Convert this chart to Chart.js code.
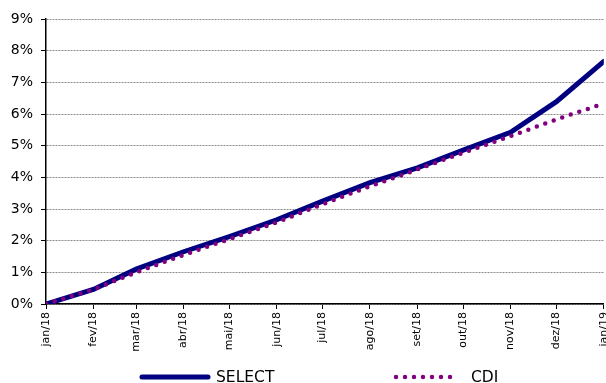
<!DOCTYPE html>
<html>
<head>
<meta charset="utf-8">
<script src="https://cdn.jsdelivr.net/npm/chart.js@4/dist/chart.umd.min.js"></script>
<style>
  html, body { margin: 0; padding: 0; background: #fff; overflow: hidden; }
  #wrap { width: 606px; height: 383px; overflow: hidden; position: relative; }
  canvas { display: block; }
</style>
</head>
<body>
<div id="wrap"><canvas id="c" width="620" height="383"></canvas></div>
<script>
// Day of year (from 1 Jan 2018) at the start of each month, through 1 Jan 2019
const monthDays = [0, 31, 59, 90, 120, 151, 181, 212, 243, 273, 304, 334, 365];
const tickLabels = ['jan/18', 'fev/18', 'mar/18', 'abr/18', 'mai/18', 'jun/18',
                    'jul/18', 'ago/18', 'set/18', 'out/18', 'nov/18', 'dez/18', 'jan/19'];
// Accumulated return (%) at each month start
const selectValues = [0, 0.46, 1.10, 1.65, 2.13, 2.66, 3.25, 3.83, 4.30, 4.86, 5.42, 6.39, 7.66];
const cdiValues    = [0, 0.46, 1.00, 1.55, 2.05, 2.58, 3.15, 3.72, 4.25, 4.78, 5.30, 5.83, 6.33];
const yTicks = [0, 1, 2, 3, 4, 5, 6, 7, 8, 9];

const toPoints = vals => vals.map((v, i) => ({ x: monthDays[i], y: v }));

// Legend drawn under the plot: a line sample followed by the series name
const bottomLegend = {
  id: 'bottomLegend',
  afterDraw(chart) {
    const ctx = chart.ctx;
    const items = [
      { ds: chart.data.datasets[0], x0: 142, x1: 208, tx: 216 },
      { ds: chart.data.datasets[1], x0: 396, x1: 455, tx: 471 }
    ];
    const y = 377;
    ctx.save();
    items.forEach(it => {
      ctx.beginPath();
      ctx.strokeStyle = it.ds.borderColor;
      ctx.lineWidth = it.ds.borderWidth;
      ctx.lineCap = it.ds.borderCapStyle || 'butt';
      ctx.setLineDash(it.ds.borderDash || []);
      ctx.moveTo(it.x0, y);
      ctx.lineTo(it.x1, y);
      ctx.stroke();
      ctx.setLineDash([]);
      ctx.fillStyle = '#000';
      ctx.font = '15.5px "DejaVu Sans", Verdana, sans-serif';
      ctx.textBaseline = 'middle';
      ctx.textAlign = 'left';
      ctx.fillText(it.ds.label, it.tx, y + 1);
    });
    ctx.restore();
  }
};

new Chart(document.getElementById('c'), {
  type: 'line',
  data: {
    datasets: [
      {
        label: 'SELECT',
        data: toPoints(selectValues),
        borderColor: '#000080',
        borderWidth: 5,
        borderCapStyle: 'round',
        pointRadius: 0,
        tension: 0,
        order: 1
      },
      {
        label: 'CDI',
        data: toPoints(cdiValues),
        borderColor: '#800080',
        borderWidth: 4.5,
        borderDash: [0, 9],
        borderCapStyle: 'round',
        pointRadius: 0,
        tension: 0,
        order: 0
      }
    ]
  },
  options: {
    responsive: false,
    animation: false,
    devicePixelRatio: 1,
    layout: { padding: { top: 19, left: 0, right: 0, bottom: 0 } },
    plugins: { legend: { display: false }, tooltip: { enabled: false } },
    scales: {
      x: {
        type: 'linear',
        min: 0,
        max: 365,
        afterBuildTicks: s => { s.ticks = monthDays.map(v => ({ value: v })); },
        afterFit: s => { s.height = 79; },
        ticks: {
          autoSkip: false,
          minRotation: 90,
          maxRotation: 90,
          padding: 3,
          color: '#000',
          font: { family: '"DejaVu Sans", Verdana, sans-serif', size: 11 },
          callback: (v, i) => tickLabels[i]
        },
        grid: { drawOnChartArea: false, drawTicks: true, tickLength: 5, tickColor: '#000', tickWidth: 1 },
        border: { display: true, color: '#000', width: 1.5 }
      },
      y: {
        min: 0,
        max: 9,
        afterBuildTicks: s => { s.ticks = yTicks.map(v => ({ value: v })); },
        afterFit: s => { s.width = 46; },
        ticks: {
          padding: 8,
          color: '#000',
          font: { family: '"DejaVu Sans", Verdana, sans-serif', size: 14 },
          callback: v => v + '%'
        },
        grid: { color: '#8c8c8c', lineWidth: 1, drawTicks: true, tickLength: 5, tickColor: '#000', tickWidth: 1 },
        border: { display: true, color: '#000', width: 1.5, dash: [2, 1] }
      }
    }
  },
  plugins: [bottomLegend]
});
</script>
</body>
</html>
